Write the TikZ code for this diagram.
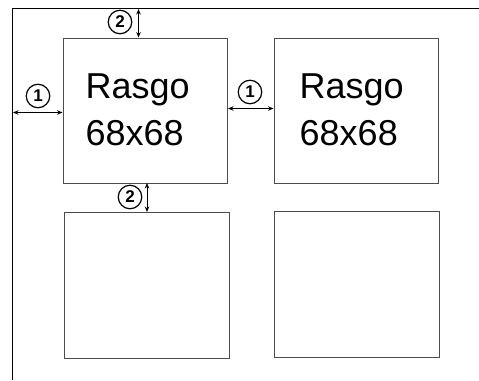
\documentclass[tikz,border=0pt]{standalone}
\usepackage{fontspec}
\setmainfont{Liberation Sans}
\usetikzlibrary{arrows.meta}
\begin{document}
\begin{tikzpicture}[x=1pt,y=-1pt,
  tile/.style={draw=black!70,line width=1.4pt,fill=white},
  frameline/.style={draw=black,line width=1.3pt},
  dim/.style={draw=black,line width=0.8pt,{Stealth[length=5.5pt,width=4.5pt]}-{Stealth[length=5.5pt,width=4.5pt]}},
  num/.style={circle,draw=black,line width=1.2pt,minimum size=23.5pt,inner sep=0pt,font=\fontsize{17}{17}\selectfont\bfseries},
  lbl/.style={anchor=north west,align=left,inner sep=0pt,font=\fontsize{36}{46.5}\selectfont}]
\useasboundingbox (0,0) rectangle (479,380);
\fill[white] (0,0) rectangle (479,380);
% frame
\coordinate (ftl) at (12.5,8.5);
\coordinate (ftr) at (479,8.5);
\coordinate (fbl) at (12.5,380);
\draw[frameline] (ftr) -- (ftl) -- (fbl);
% tiles
\node[tile,minimum width=164pt,minimum height=145.5pt,inner sep=0pt,anchor=north west] (b1) at (63,37.5) {};
\node[tile,minimum width=164pt,minimum height=145pt,inner sep=0pt,anchor=north west] (b2) at (274,38) {};
\node[tile,minimum width=165pt,minimum height=145.5pt,inner sep=0pt,anchor=north west] (b3) at (64,212) {};
\node[tile,minimum width=165pt,minimum height=145.5pt,inner sep=0pt,anchor=north west] (b4) at (274,211) {};
% labels
\node[lbl] (t1) at (85.5,74) {Rasgo\\68x68};
\node[lbl] (t2) at (299.5,74) {Rasgo\\68x68};
% dimension arrows
\coordinate (a1s) at (13,112.5);
\coordinate (a1e) at (62.5,112.5);
\draw[dim] (a1s) -- (a1e);
\coordinate (a2s) at (228,108.5);
\coordinate (a2e) at (273.5,108.5);
\draw[dim] (a2s) -- (a2e);
\coordinate (a3s) at (138.5,9);
\coordinate (a3e) at (138.5,37.5);
\draw[dim] (a3s) -- (a3e);
\coordinate (a4s) at (147,183);
\coordinate (a4e) at (147,212);
\draw[dim] (a4s) -- (a4e);
% numbered circles
\node[num] (n1) at (38,96) {1};
\node[num] (n2) at (250,92) {1};
\node[num] (n3) at (120,22) {2};
\node[num] (n4) at (130,197) {2};
\end{tikzpicture}
\end{document}
